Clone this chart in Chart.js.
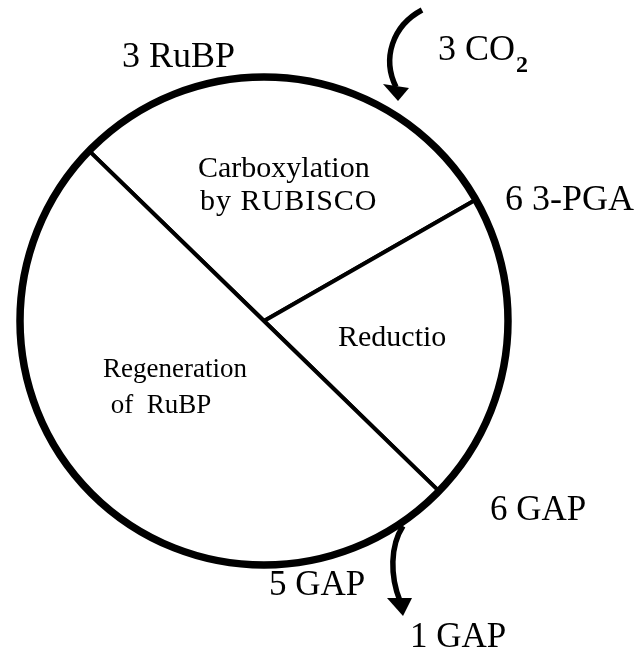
<!DOCTYPE html>
<html>
<head>
<meta charset="utf-8">
<script src="https://cdn.jsdelivr.net/npm/chart.js@4.4.0/dist/chart.umd.min.js"></script>
<style>
html,body{margin:0;padding:0;background:#fff;}
canvas{display:block;}
</style>
</head>
<body>
<canvas id="c" width="634" height="652"></canvas>
<script>
// Phases of the cycle (arc size in degrees)
const phases = ["Carboxylation by RUBISCO", "Reductio", "Regeneration of RuBP"];
const phaseDegrees = [106, 74, 180];
const sliceLabels = [["Carboxylation", "by RUBISCO"], ["Reductio"], ["Regeneration", " of  RuBP"]];
const outerLabels = ["3 RuBP", "3 CO", "6 3-PGA", "6 GAP", "5 GAP", "1 GAP"];

const SERIF = '"Liberation Serif", "DejaVu Serif", serif';

const decor = {
  id: 'decor',
  afterDatasetsDraw(chart) {
    const ctx = chart.ctx;
    const arc = chart.getDatasetMeta(0).data[0];
    const cx = arc.x, cy = arc.y, R = arc.outerRadius;
    ctx.save();
    // thick outer ring
    ctx.beginPath();
    ctx.arc(cx, cy, R, 0, Math.PI * 2);
    ctx.lineWidth = 7.5;
    ctx.strokeStyle = '#000';
    ctx.stroke();

    // arrows
    ctx.lineWidth = 5.5;
    ctx.lineCap = 'butt';
    ctx.beginPath();
    ctx.moveTo(cx + 158, cy - 311);
    ctx.bezierCurveTo(cx + 128, cy - 295, cx + 118, cy - 262, cx + 132, cy - 234);
    ctx.stroke();
    ctx.beginPath();
    ctx.moveTo(cx + 134, cy - 220);
    ctx.lineTo(cx + 119, cy - 237);
    ctx.lineTo(cx + 145, cy - 233);
    ctx.closePath();
    ctx.fillStyle = '#000';
    ctx.fill();

    ctx.beginPath();
    ctx.moveTo(cx + 139, cy + 205);
    ctx.bezierCurveTo(cx + 126, cy + 225, cx + 126, cy + 255, cx + 136, cy + 280);
    ctx.stroke();
    ctx.beginPath();
    ctx.moveTo(cx + 139, cy + 295);
    ctx.lineTo(cx + 123, cy + 277);
    ctx.lineTo(cx + 148, cy + 277);
    ctx.closePath();
    ctx.fill();

    // text
    ctx.fillStyle = '#000';
    ctx.textBaseline = 'alphabetic';
    ctx.textAlign = 'left';
    ctx.font = '36px ' + SERIF;
    ctx.fillText(outerLabels[0], 122, 67);
    ctx.fillText(outerLabels[1], 438, 60);
    const w = ctx.measureText(outerLabels[1]).width;
    ctx.font = 'bold 24px ' + SERIF;
    ctx.fillText('2', 438 + w + 1, 72);
    ctx.font = '36px ' + SERIF;
    ctx.fillText(outerLabels[2], 505, 210);
    ctx.font = '35px ' + SERIF;
    ctx.fillText(outerLabels[3], 490, 520);
    ctx.fillText(outerLabels[4], 269, 595);
    ctx.fillText(outerLabels[5], 410, 647);

    ctx.font = '30px ' + SERIF;
    ctx.fillText(sliceLabels[0][0], 198, 177);
    ctx.letterSpacing = '1px';
    ctx.fillText(sliceLabels[0][1], 200, 210);
    ctx.letterSpacing = '0px';
    ctx.fillText(sliceLabels[1][0], 338, 346);
    ctx.font = '27px ' + SERIF;
    ctx.fillText(sliceLabels[2][0], 103, 377);
    ctx.fillText(sliceLabels[2][1], 104, 413);
    ctx.restore();
  }
};

new Chart(document.getElementById('c'), {
  type: 'pie',
  data: {
    labels: phases,
    datasets: [{
      data: phaseDegrees,
      backgroundColor: '#ffffff',
      borderColor: '#000000',
      borderWidth: 4,
      hoverOffset: 0,
      offset: 0
    }]
  },
  options: {
    responsive: false,
    animation: false,
    rotation: -45.8,
    layout: { padding: { left: 18, right: 124, top: 75, bottom: 85 } },
    plugins: { legend: { display: false }, tooltip: { enabled: false } },
    events: []
  },
  plugins: [decor]
});
</script>
</body>
</html>
